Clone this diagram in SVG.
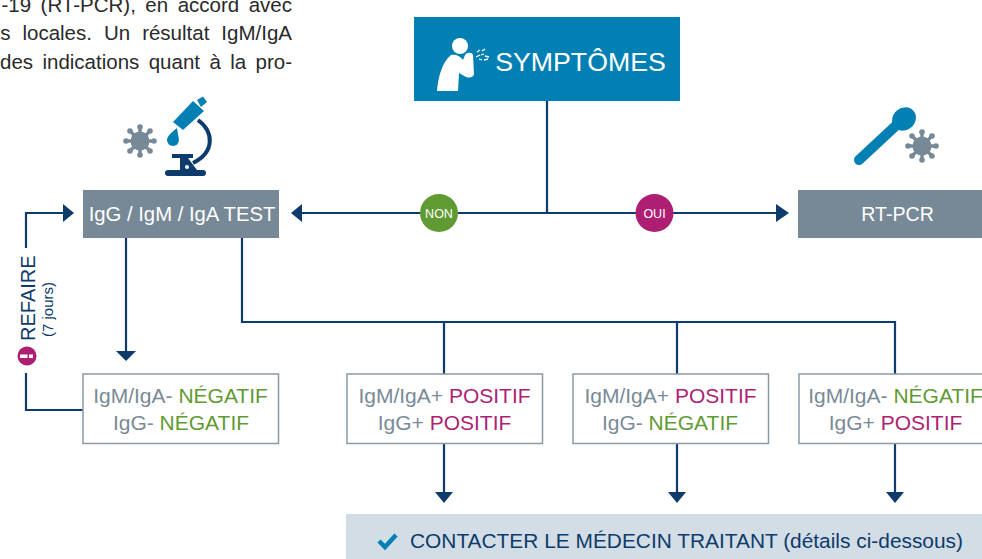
<svg xmlns="http://www.w3.org/2000/svg" width="982" height="559" viewBox="0 0 982 559">
<style>
text{font-family:"Liberation Sans",Arial,sans-serif}
.body{font-size:20.5px;fill:#2a2a2a;text-anchor:end}
.lab{font-size:21px;fill:#7a8a97;text-anchor:middle}
.g{fill:#5f9a33}.m{fill:#ae1f73}
.box{fill:#fff;stroke:#8b9aa6;stroke-width:1.5}
.grey{fill:#778996}
.ln{fill:none;stroke:#0c3b6c;stroke-width:2.2}
.hd{fill:#0c3b6c}
.tw{fill:#fff;text-anchor:middle}
.spike{stroke:#778996;stroke-width:3.4;stroke-linecap:round}
</style>
<defs>
<g id="virus">
<circle r="9.500" fill="#778996"/>
<g class="spike"><path d="M0-14V14M-14 0H14M-10-10L10 10M-10 10L10-10"/></g>
<g fill="#778996"><circle cy="-14" r="2.800"/><circle cy="14" r="2.800"/><circle cx="-14" r="2.800"/><circle cx="14" r="2.800"/><circle cx="-10" cy="-10" r="2.800"/><circle cx="10" cy="10" r="2.800"/><circle cx="-10" cy="10" r="2.800"/><circle cx="10" cy="-10" r="2.800"/></g>
</g>
</defs>
<g id="paragraph">
<text class="body" x="292" y="12" word-spacing="3.800">-19 (RT-PCR), en accord avec</text>
<text class="body" x="292" y="40" word-spacing="6.300">s locales. Un résultat IgM/IgA</text>
<text class="body" x="292" y="69" word-spacing="3.700">des indications quant à la pro-</text>
</g>
<g id="connectors">
<path class="ln" d="M547 101V213"/>
<path class="ln" d="M302 213H776"/>
<path class="hd" d="M291 213L302 204V222Z"/>
<path class="hd" d="M789 213L776 204V222Z"/>
<path class="ln" d="M26 248V213H63"/>
<path class="hd" d="M74 213L63 204V222Z"/>
<path class="ln" d="M26 373V410H83"/>
<path class="ln" d="M126 238V352"/>
<path class="hd" d="M126 361L116 351H136Z"/>
<path class="ln" d="M242 238V322H895V375"/>
<path class="ln" d="M444 322V375"/>
<path class="ln" d="M677 322V375"/>
<path class="ln" d="M444 444V494"/>
<path class="ln" d="M677 444V494"/>
<path class="ln" d="M895 444V494"/>
<path class="hd" d="M435 492H453L444 503Z"/>
<path class="hd" d="M668 492H686L677 503Z"/>
<path class="hd" d="M886 492H904L895 503Z"/>
</g>
<g id="symptomes">
<rect x="414" y="17" width="266" height="84" fill="#0280b3"/>
<circle cx="460" cy="46" r="8" fill="#fff"/>
<path fill="#fff" d="M451 55C456 54 460 56 463 60L465 55C467 52 472 52 473 55L474 74C473 78 469 78 466 77L459 73L458 91H437C438 78 442 62 451 55Z"/>
<g stroke="#fff" stroke-width="1.300"><path d="M477 52l3-2M482 51l3-2M476 57l4-2M481 55l3-1M485 56l4 1M479 59l3 1M484 60l4-1"/></g>
<text x="580.500" y="71" fill="#fff" font-size="26.700" text-anchor="middle">SYMPTÔMES</text>
</g>
<g id="test">
<use href="#virus" x="140" y="141"/>
<path fill="#0280b3" d="M173 122L193 101L204 111L183 130Z"/>
<path fill="#0280b3" d="M197 100L203 96.500L207 102L201 107Z"/>
<path fill="#0280b3" d="M177 128L179 140A6 6 0 0 1 167 140C167 136 172 132 177 128Z"/>
<path fill="none" stroke="#0c3b6c" stroke-width="4" d="M198 120C214 132 215 152 193 163"/>
<path fill="#0c3b6c" d="M172 154H193V158H188L197 170H203A3 3 0 0 1 203 176H168A3 3 0 0 1 168 170H180V158H172Z"/>
<circle cx="187" cy="167" r="2" fill="#fff"/>
<rect x="83" y="190" width="196" height="48" class="grey"/>
<text class="tw" x="182" y="221" font-size="20.300">IgG / IgM / IgA TEST</text>
</g>
<g id="rtpcr">
<path stroke="#0280b3" stroke-width="10" stroke-linecap="round" fill="none" d="M859 160L902 120"/>
<ellipse cx="904" cy="119" rx="12.500" ry="11" fill="#0280b3" transform="rotate(-40 904 119)"/>
<use href="#virus" x="922" y="146"/>
<rect x="798" y="190" width="184" height="48" class="grey"/>
<text class="tw" x="897.500" y="221" font-size="19.600">RT-PCR</text>
</g>
<g id="non">
<circle cx="439" cy="213" r="19" fill="#5f9a33"/>
<text x="439" y="218" fill="#fff" font-size="12.500" text-anchor="middle">NON</text>
</g>
<g id="oui">
<circle cx="654.500" cy="213" r="19" fill="#ae1f73"/>
<text x="654.500" y="218" fill="#fff" font-size="12.500" text-anchor="middle">OUI</text>
</g>
<g id="refaire">
<circle cx="27" cy="356" r="9.500" fill="#ae1f73"/>
<rect x="20" y="354.500" width="7.500" height="3.500" fill="#fff"/><rect x="29" y="354.500" width="4" height="3.500" fill="#fff"/>
<text transform="translate(35 341) rotate(-90)" fill="#0c3b6c" font-size="20">REFAIRE</text>
<text transform="translate(53 337) rotate(-90)" fill="#0c3b6c" font-size="15">(7 jours)</text>
</g>
<g id="neg-neg">
<rect class="box" x="83" y="374" width="195.500" height="69.500"/>
<text class="lab" x="180.500" y="403">IgM/IgA- <tspan class="g">NÉGATIF</tspan></text>
<text class="lab" x="181" y="430">IgG- <tspan class="g">NÉGATIF</tspan></text>
</g>
<g id="pos-pos">
<rect class="box" x="347" y="374" width="195.500" height="69.500"/>
<text class="lab" x="444.500" y="403">IgM/IgA+ <tspan class="m">POSITIF</tspan></text>
<text class="lab" x="444.500" y="430">IgG+ <tspan class="m">POSITIF</tspan></text>
</g>
<g id="pos-neg">
<rect class="box" x="573" y="374" width="195.500" height="69.500"/>
<text class="lab" x="670.500" y="403">IgM/IgA+ <tspan class="m">POSITIF</tspan></text>
<text class="lab" x="670" y="430">IgG- <tspan class="g">NÉGATIF</tspan></text>
</g>
<g id="neg-pos">
<rect class="box" x="799" y="374" width="195.500" height="69.500"/>
<text class="lab" x="895.500" y="403">IgM/IgA- <tspan class="g">NÉGATIF</tspan></text>
<text class="lab" x="895.500" y="430">IgG+ <tspan class="m">POSITIF</tspan></text>
</g>
<g id="contact">
<rect x="346" y="514" width="636" height="45" fill="#d3dde5"/>
<path fill="none" stroke="#0280b3" stroke-width="4.500" d="M379 541L385 547L396 535"/>
<text x="410" y="548" fill="#0c3b6c" font-size="20.500" textLength="553" lengthAdjust="spacingAndGlyphs">CONTACTER LE MÉDECIN TRAITANT (détails ci-dessous)</text>
</g>
</svg>
